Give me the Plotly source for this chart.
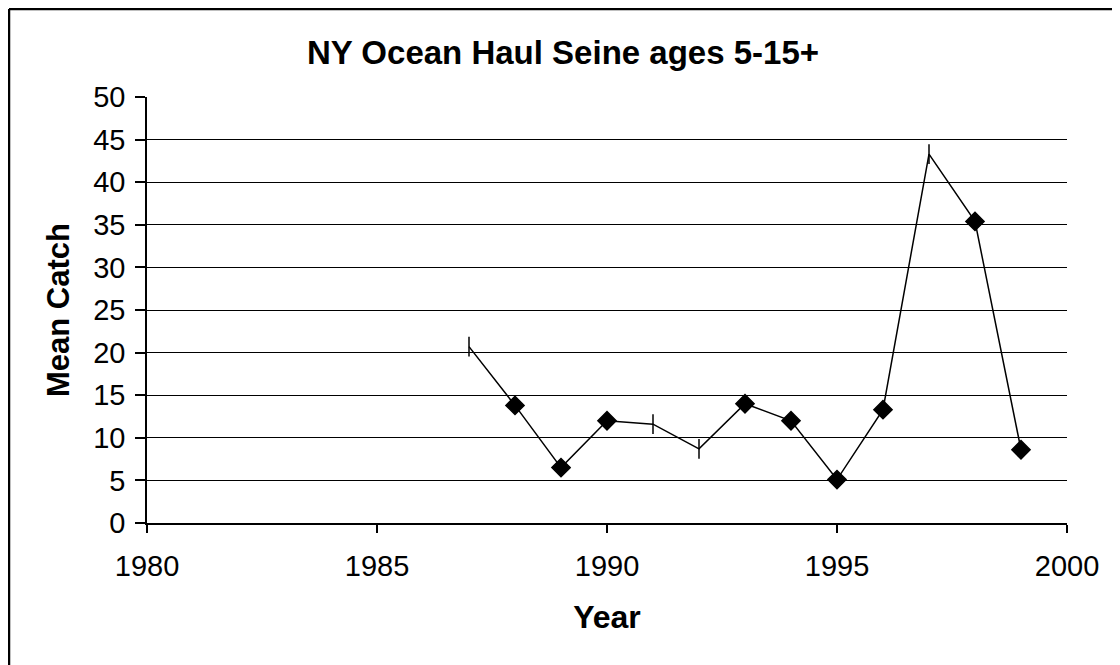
import plotly.graph_objects as go

# data
years = [1987, 1988, 1989, 1990, 1991, 1992, 1993, 1994, 1995, 1996, 1997, 1998, 1999]
mean_catch = [20.7, 13.8, 6.5, 12.0, 11.6, 8.7, 14.0, 12.0, 5.1, 13.3, 43.3, 35.4, 8.6]
x_ticks = [1980, 1985, 1990, 1995, 2000]
y_ticks = [0, 5, 10, 15, 20, 25, 30, 35, 40, 45, 50]

# some points in the original only show a small vertical dash instead of a diamond
symbols = ['line-ns', 'diamond', 'diamond', 'diamond', 'line-ns', 'line-ns', 'diamond',
           'diamond', 'diamond', 'diamond', 'line-ns', 'diamond', 'diamond']

FONT = 'Liberation Sans, Arial, sans-serif'

fig = go.Figure()
fig.add_trace(go.Scatter(
    x=years, y=mean_catch, mode='lines+markers',
    line=dict(color='black', width=1.5),
    marker=dict(symbol=symbols, size=14, color='black',
                line=dict(color='black', width=1.5)),
    showlegend=False))

# plot area in figure pixels (page has an 8px body margin): x 139..1059, y 89..515
L, R, T, B = 139, 1059, 89, 515
W, H = R - L, B - T

fig.update_layout(
    width=1120, height=665,
    margin=dict(l=L, r=1120 - R, t=T, b=665 - B),
    paper_bgcolor='white', plot_bgcolor='white',
    font=dict(family=FONT, color='black', size=29),
    title=dict(text='<b>NY Ocean Haul Seine ages 5-15+</b>', x=(555 - L) / W, xref='paper',
               xanchor='center', y=1 - 44 / 665, yanchor='middle',
               font=dict(size=33, family=FONT, color='black')),
)

fig.update_xaxes(
    range=[1980, 2000], tickvals=x_ticks, ticks='outside', ticklen=8, tickwidth=1.5,
    tickcolor='black', showline=True, linecolor='black', linewidth=1.5,
    showgrid=False, zeroline=False, ticklabelstandoff=8,
    title=dict(text='<b>Year</b>', font=dict(size=32, family=FONT), standoff=25))

fig.update_yaxes(
    range=[0, 50], tickvals=y_ticks, ticks='outside', ticklen=10, tickwidth=1.5,
    tickcolor='black', showline=True, linecolor='black', linewidth=1.5,
    showgrid=True, gridcolor='black', gridwidth=1.3, zeroline=False,
    ticklabelstandoff=4,
    title=dict(text='<b>Mean Catch</b>', font=dict(size=31, family=FONT), standoff=14))

# chart-area border: only the left and top edges are visible in the picture
x_left = (1 - L) / W
y_top = (B - 1) / H
fig.add_shape(type='line', xref='paper', yref='paper', x0=x_left, x1=x_left,
              y0=y_top, y1=(B - 680) / H, line=dict(color='black', width=2.5))
fig.add_shape(type='line', xref='paper', yref='paper', x0=x_left, x1=(1130 - L) / W,
              y0=y_top, y1=y_top, line=dict(color='black', width=2.5))

fig.write_html("out.html")
